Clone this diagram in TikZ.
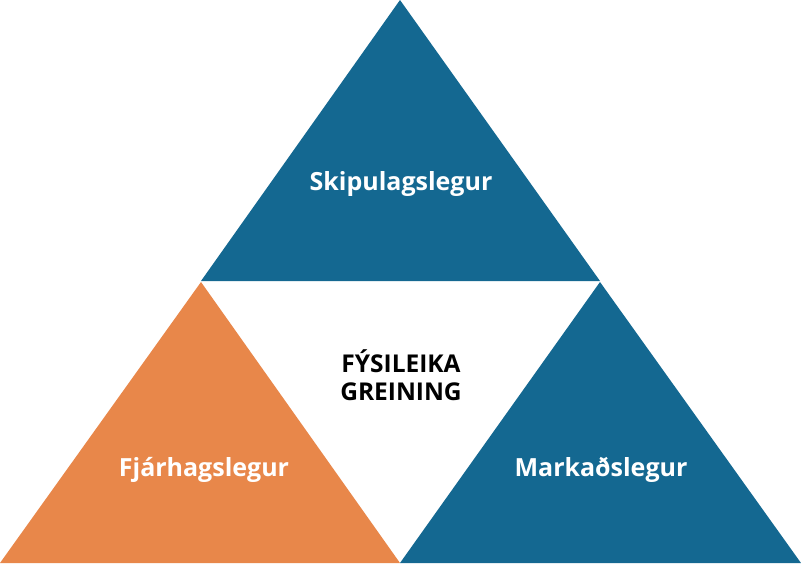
\documentclass[tikz,border=0pt]{standalone}
\usepackage{fontspec}
\setmainfont{Open Sans}
\usetikzlibrary{positioning}
\definecolor{pyrblue}{HTML}{146891}
\definecolor{pyrorange}{HTML}{E8874A}
\tikzset{
 part/.style={draw=none},
 partlabel/.style={text=white,font=\fontsize{25}{30}\selectfont\bfseries,anchor=base},
 corelabel/.style={text=black,font=\fontsize{24.5}{28}\selectfont\bfseries,align=center,anchor=base}
}
\begin{document}
\begin{tikzpicture}[x=1pt,y=-1pt]
 \useasboundingbox (0,0) rectangle (801,563);
 \fill[white](0,0) rectangle (801,563);
 \fill[part,pyrblue](400,0)--(201,281)--(600,281)--cycle;
 \fill[part,pyrorange](201,282)--(0,563)--(400,563)--cycle;
 \fill[part,pyrblue](600,282)--(400,563)--(801,563)--cycle;
 \node[partlabel] (skip) at (401,190) {Skipulagslegur};
 \node[partlabel] (fjar) at (204,476) {Fjárhagslegur};
 \node[partlabel] (mark) at (601,476) {Markaðslegur};
 \node[corelabel] (core) at (401,372) {FÝSILEIKA};
 \node[corelabel] (core2) at (401,400) {GREINING};
\end{tikzpicture}
\end{document}
